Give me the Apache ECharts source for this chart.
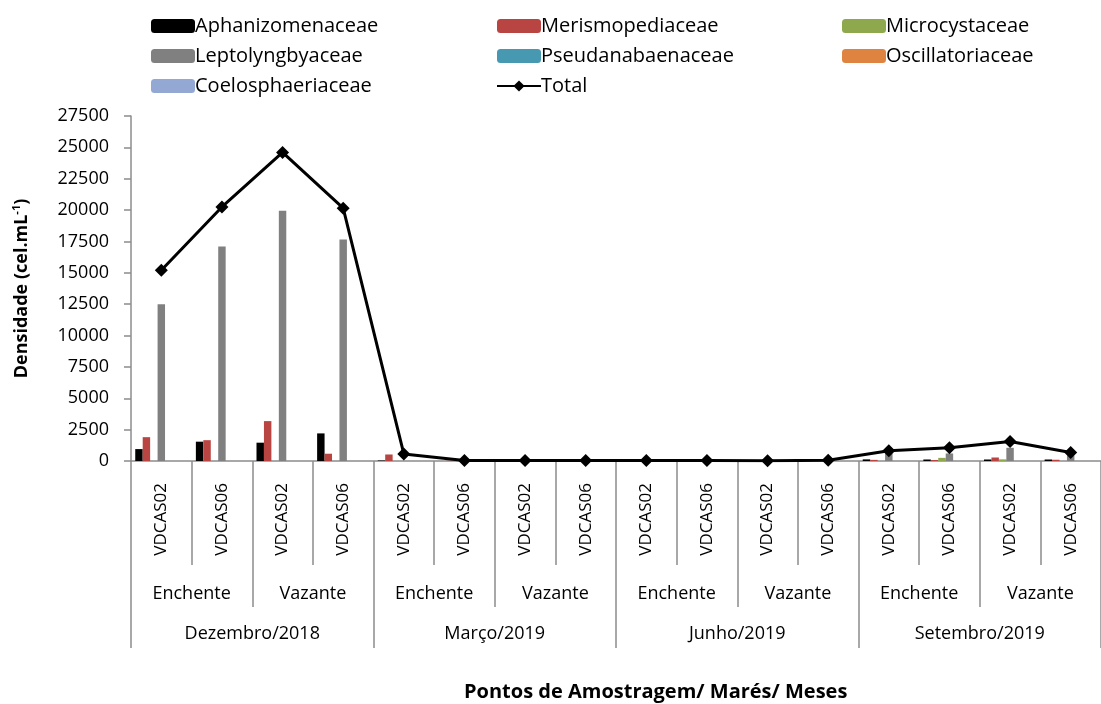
<!DOCTYPE html>
<html>
<head>
<meta charset="utf-8">
<script src="https://cdn.jsdelivr.net/npm/echarts@6/dist/echarts.min.js"></script>
<style>
  html, body { margin: 0; padding: 0; background: #fff; }
  #chart { width: 1101px; height: 704px; }
</style>
</head>
<body>
<div id="chart"></div>
<script>
// x axis levels
var stations = ['VDCAS02', 'VDCAS06']
var tides = ['Enchente', 'Vazante']
var months = ['Dezembro/2018', 'Março/2019', 'Junho/2019', 'Setembro/2019']

// densities (cel.mL-1), one value per station / tide / month
var aphanizomenaceae = [950, 1540, 1460, 2200, 40, 0, 0, 0, 0, 0, 0, 50, 130, 120, 120, 120]
var merismopediaceae = [1900, 1660, 3180, 580, 520, 20, 20, 20, 20, 20, 0, 0, 90, 80, 280, 100]
var microcystaceae = [0, 0, 0, 0, 0, 0, 0, 0, 0, 0, 0, 0, 0, 250, 130, 0]
var leptolyngbyaceae = [12500, 17100, 19950, 17650, 0, 0, 0, 0, 0, 0, 0, 0, 600, 600, 1050, 450]
var pseudanabaenaceae = [0, 0, 0, 0, 0, 0, 0, 0, 0, 0, 0, 0, 0, 0, 0, 0]
var oscillatoriaceae = [0, 0, 0, 0, 0, 0, 0, 0, 0, 0, 0, 0, 0, 0, 0, 0]
var coelosphaeriaceae = [0, 0, 0, 0, 0, 0, 0, 0, 0, 0, 0, 0, 0, 0, 0, 0]
var total = [15200, 20250, 24600, 20150, 560, 40, 30, 30, 30, 40, 10, 60, 820, 1050, 1560, 680]

var yTicks = { min: 0, max: 27500, interval: 2500 }

// build the three label rows
var stationCats = []
var tideCats = []
months.forEach(function() {
  tides.forEach(function(t) {
    tideCats.push(t)
    stations.forEach(function(s) { stationCats.push(s) })
  })
})

var font = '"Open Sans", "Liberation Sans", sans-serif'
var axisGray = '#8c8c8c'

var families = [
  { name: 'Aphanizomenaceae', data: aphanizomenaceae, color: '#000000' },
  { name: 'Merismopediaceae', data: merismopediaceae, color: '#B94543' },
  { name: 'Microcystaceae', data: microcystaceae, color: '#8DA84D' },
  { name: 'Leptolyngbyaceae', data: leptolyngbyaceae, color: '#808080' },
  { name: 'Pseudanabaenaceae', data: pseudanabaenaceae, color: '#4699B0' },
  { name: 'Oscillatoriaceae', data: oscillatoriaceae, color: '#DE8440' },
  { name: 'Coelosphaeriaceae', data: coelosphaeriaceae, color: '#93A9D3' }
]

var series = families.map(function(f) {
  return {
    name: f.name,
    type: 'bar',
    data: f.data,
    barGap: '0%',
    barCategoryGap: '14%',
    itemStyle: { color: f.color }
  }
})
series.push({
  name: 'Total',
  type: 'line',
  data: total,
  symbol: 'diamond',
  symbolSize: 13,
  z: 5,
  itemStyle: { color: '#000' },
  lineStyle: { color: '#000', width: 3 }
})

function legendCol(left, names) {
  return {
    orient: 'vertical',
    left: left,
    top: 11,
    itemWidth: 44,
    itemHeight: 14,
    itemGap: 10,
    data: names,
    textStyle: { fontFamily: font, fontSize: 20, lineHeight: 20, color: '#000', padding: [0, 0, 0, -5] }
  }
}

var chart = echarts.init(document.getElementById('chart'))
chart.setOption({
  animation: false,
  textStyle: { fontFamily: font },
  title: {
    text: 'Pontos de Amostragem/ Marés/ Meses',
    left: 459,
    top: 677,
    textStyle: { fontFamily: font, fontSize: 20, fontWeight: 'bold', color: '#000' }
  },
  legend: [
    legendCol(146, ['Aphanizomenaceae', 'Leptolyngbyaceae', 'Coelosphaeriaceae']),
    legendCol(491, ['Merismopediaceae', 'Pseudanabaenaceae', 'Total']),
    legendCol(837, ['Microcystaceae', 'Oscillatoriaceae'])
  ],
  grid: { left: 131, top: 116, width: 980, height: 345 },
  xAxis: [
    {
      type: 'category',
      data: stationCats,
      axisLine: { lineStyle: { color: axisGray, width: 1.5 } },
      axisTick: { show: true, length: 104, interval: 0, lineStyle: { color: axisGray, width: 1.5 } },
      axisLabel: { rotate: 90, margin: 22, interval: 0, fontSize: 17, color: '#000', fontFamily: font }
    },
    {
      type: 'category',
      data: tideCats,
      position: 'bottom',
      offset: 104,
      axisLine: { show: false },
      axisTick: { show: true, length: 42, interval: 0, lineStyle: { color: axisGray, width: 1.5 } },
      axisLabel: { margin: 20, interval: 0, fontSize: 18, color: '#000', fontFamily: font }
    },
    {
      type: 'category',
      data: months,
      position: 'bottom',
      offset: 146,
      axisLine: { show: false },
      axisTick: { show: true, length: 41, interval: 0, lineStyle: { color: axisGray, width: 1.5 } },
      axisLabel: { margin: 18, interval: 0, fontSize: 18, color: '#000', fontFamily: font }
    }
  ],
  yAxis: {
    type: 'value',
    min: yTicks.min,
    max: yTicks.max,
    interval: yTicks.interval,
    name: '{a|Densidade (cel.mL}{b|-1}{a|)}',
    nameLocation: 'middle',
    nameGap: 98,
    nameTextStyle: {
      rich: {
        a: { fontFamily: font, fontSize: 18, fontWeight: 'bold', color: '#000', lineHeight: 22 },
        b: { fontFamily: font, fontSize: 11, fontWeight: 'bold', color: '#000', verticalAlign: 'top', lineHeight: 22 }
      }
    },
    axisLine: { show: true, lineStyle: { color: axisGray, width: 1.5 } },
    axisTick: { show: true, length: 7, lineStyle: { color: axisGray, width: 1.5 } },
    splitLine: { show: false },
    axisLabel: {
      margin: 22, fontSize: 18, color: '#000', fontFamily: font,
      formatter: function(v) { return String(v) }
    }
  },
  series: series
})
</script>
</body>
</html>
